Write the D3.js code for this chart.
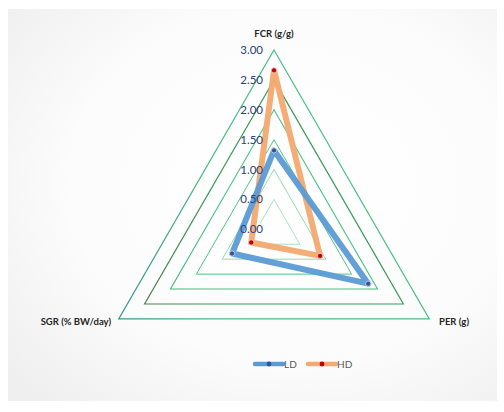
<!DOCTYPE html>
<html>
<head>
<meta charset="utf-8">
<script src="https://cdn.jsdelivr.net/npm/d3@7"></script>
<style>
  html, body { margin: 0; padding: 0; background: #fff; }
  svg { display: block; }
</style>
</head>
<body>
<svg id="chart" width="504" height="412"></svg>
<script>
// Radar chart data
const axes = ["FCR (g/g)", "PER (g)", "SGR (% BW/day)"];
const ldValues = [1.32, 1.82, 0.81];
const hdValues = [2.66, 0.89, 0.44];
const seriesNames = ["LD", "HD"];
const tickValues = [0, 0.5, 1.0, 1.5, 2.0, 2.5, 3.0];

const svg = d3.select("#chart");
const defs = svg.append("defs");

// Panel background: soft radial shading
const bg = defs.append("radialGradient").attr("id", "panelGrad")
  .attr("cx", "58%").attr("cy", "45%").attr("r", "75%");
bg.append("stop").attr("offset", "0%").attr("stop-color", "#ffffff");
bg.append("stop").attr("offset", "60%").attr("stop-color", "#fcfcfc");
bg.append("stop").attr("offset", "100%").attr("stop-color", "#efefef");

svg.append("rect").attr("x", 8).attr("y", 9).attr("width", 489).attr("height", 392)
  .attr("fill", "url(#panelGrad)");

const cx = 274, cy = 229.3, R = 179.3;
const r = d3.scaleLinear().domain([0, 3]).range([0, R]);
const angle = d3.scaleLinear().domain([0, axes.length]).range([0, 2 * Math.PI]);

function pt(i, v) {
  const a = angle(i);
  return [cx + r(v) * Math.sin(a), cy - r(v) * Math.cos(a)];
}

// Gridline gradients (teal on the left, green across)
const gridStyles = [
  { id: "g1", left: "#8fdcb0", right: "#a6e4c0", w: 1 },
  { id: "g2", left: "#74d29c", right: "#8edcae", w: 1 },
  { id: "g3", left: "#3fb879", right: "#4cc585", w: 1 },
  { id: "g4", left: "#2fae6e", right: "#49c282", w: 1.1 },
  { id: "g5", left: "#4e7a3c", right: "#3b9a5a", w: 1.2 },
  { id: "g6", left: "#2f8f8a", right: "#48bf86", w: 1.2 }
];
gridStyles.forEach(s => {
  const g = defs.append("linearGradient").attr("id", s.id)
    .attr("gradientUnits", "userSpaceOnUse")
    .attr("x1", cx - R).attr("y1", cy).attr("x2", cx + R).attr("y2", cy);
  g.append("stop").attr("offset", "0%").attr("stop-color", s.left);
  g.append("stop").attr("offset", "35%").attr("stop-color", s.right);
  g.append("stop").attr("offset", "100%").attr("stop-color", s.right);
});

const line = d3.line().curve(d3.curveLinearClosed);

tickValues.slice(1).forEach((t, k) => {
  const s = gridStyles[k];
  svg.append("path")
    .attr("d", line(axes.map((_, i) => pt(i, t))))
    .attr("fill", "none")
    .attr("stroke", `url(#${s.id})`)
    .attr("stroke-width", s.w);
});

const labelFont = "Lato, 'Open Sans', sans-serif";

// Series
const series = [
  { name: seriesNames[1], values: hdValues, color: "#f4a971", marker: "#c00000" },
  { name: seriesNames[0], values: ldValues, color: "#5b9bd5", marker: "#2f5597" }
];
series.forEach(s => {
  const pts = s.values.map((v, i) => pt(i, v));
  svg.append("path").attr("d", line(pts))
    .attr("fill", "none").attr("stroke", s.color)
    .attr("stroke-width", 6).attr("stroke-linejoin", "round")
    .attr("opacity", 0.95);
  svg.append("g").selectAll("circle").data(pts).join("circle")
    .attr("cx", d => d[0]).attr("cy", d => d[1]).attr("r", 2.6)
    .attr("fill", s.marker).attr("stroke", "#ffffff").attr("stroke-width", 0.6);
});

// Tick labels along the FCR axis
svg.append("g").selectAll("text").data(tickValues).join("text")
  .attr("x", cx - 11)
  .attr("y", d => cy - r(d))
  .attr("dy", "0.35em")
  .attr("text-anchor", "end")
  .attr("font-family", labelFont)
  .attr("font-size", 11.5)
  .attr("fill", "#2b3f7a")
  .text(d => d3.format(".2f")(d));

// Axis titles
svg.append("text").attr("x", cx).attr("y", 37).attr("text-anchor", "middle")
  .attr("font-family", labelFont).attr("font-weight", "bold").attr("font-size", 9.5)
  .attr("fill", "#262626").text(axes[0]);
svg.append("text").attr("x", 439).attr("y", 325).attr("text-anchor", "start")
  .attr("font-family", labelFont).attr("font-weight", "bold").attr("font-size", 9.5)
  .attr("fill", "#262626").text(axes[1]);
svg.append("text").attr("x", 111).attr("y", 325).attr("text-anchor", "end")
  .attr("font-family", labelFont).attr("font-weight", "bold").attr("font-size", 9.5)
  .attr("fill", "#262626").text(axes[2]);

// Legend
const legendItems = [
  { name: seriesNames[0], color: "#5b9bd5", marker: "#2f5597", x: 255 },
  { name: seriesNames[1], color: "#f4a971", marker: "#c00000", x: 308 }
];
const ly = 364;
legendItems.forEach(d => {
  svg.append("line").attr("x1", d.x).attr("x2", d.x + 28).attr("y1", ly).attr("y2", ly)
    .attr("stroke", d.color).attr("stroke-width", 4.5).attr("stroke-linecap", "round");
  svg.append("circle").attr("cx", d.x + 14).attr("cy", ly).attr("r", 2.4)
    .attr("fill", d.marker);
  svg.append("text").attr("x", d.x + 29).attr("y", ly).attr("dy", "0.35em")
    .attr("font-family", labelFont).attr("font-size", 10).attr("fill", "#595959")
    .text(d.name);
});
</script>
</body>
</html>
